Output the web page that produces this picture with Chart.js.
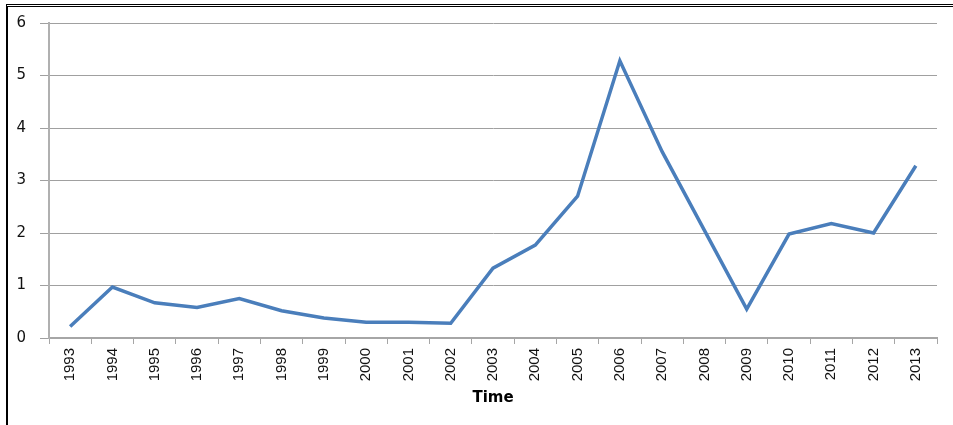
<!DOCTYPE html>
<html>
<head>
<meta charset="utf-8">
<script src="https://cdn.jsdelivr.net/npm/chart.js@4/dist/chart.umd.min.js"></script>
<style>
  html, body { margin: 0; padding: 0; background: #fff; }
  #wrap { position: relative; width: 953px; height: 425px; }
  #frame { position: absolute; left: 6px; top: 4px; right: 0; bottom: 0;
           border-left: 2px solid #000; border-top: 3px double #000; pointer-events: none; }
  canvas { position: absolute; left: 0; top: 0; }
</style>
</head>
<body>
<div id="wrap">
  <canvas id="c" width="953" height="425"></canvas>
  <div id="frame"></div>
</div>
<script>
// Yearly values
const years = ['1993','1994','1995','1996','1997','1998','1999','2000','2001','2002','2003',
               '2004','2005','2006','2007','2008','2009','2010','2011','2012','2013'];
const values = [0.22, 0.97, 0.67, 0.58, 0.75, 0.52, 0.38, 0.30, 0.30, 0.28, 1.33,
                1.77, 2.70, 5.28, 3.55, 2.05, 0.55, 1.98, 2.18, 2.00, 3.28];
const yTicks = [0, 1, 2, 3, 4, 5, 6];

new Chart(document.getElementById('c'), {
  type: 'line',
  data: {
    labels: years,
    datasets: [{
      data: values,
      borderColor: '#4a7ebb',
      borderWidth: 3.5,
      pointRadius: 0,
      tension: 0,
      fill: false
    }]
  },
  options: {
    responsive: false,
    animation: false,
    layout: { padding: { left: 0, right: 16, top: 16, bottom: 14 } },
    plugins: { legend: { display: false }, tooltip: { enabled: false } },
    scales: {
      x: {
        offset: true,
        grid: { offset: true, drawOnChartArea: false, drawTicks: true, tickLength: 6, color: '#a6a6a6', lineWidth: 1 },
        border: { color: '#a6a6a6', width: 2 },
        ticks: { minRotation: 90, maxRotation: 90, autoSkip: false, padding: 4,
                 color: '#111', font: { family: 'Liberation Sans', size: 15 } },
        title: { display: true, text: 'Time', color: '#000', padding: { top: 2, bottom: 4 },
                 font: { family: 'DejaVu Sans', size: 15, weight: 'bold' } },
        afterFit: s => { s.height = 73; }
      },
      y: {
        min: 0, max: 6,
        afterBuildTicks: s => { s.ticks = yTicks.map(v => ({ value: v })); },
        grid: { color: '#a0a0a0', lineWidth: 1, tickLength: 9 },
        border: { color: '#b0b0b0', width: 2 },
        ticks: { padding: 14, color: '#111', font: { family: 'DejaVu Sans', size: 15 } },
        afterFit: s => { s.width = 49; }
      }
    }
  }
});
</script>
</body>
</html>
